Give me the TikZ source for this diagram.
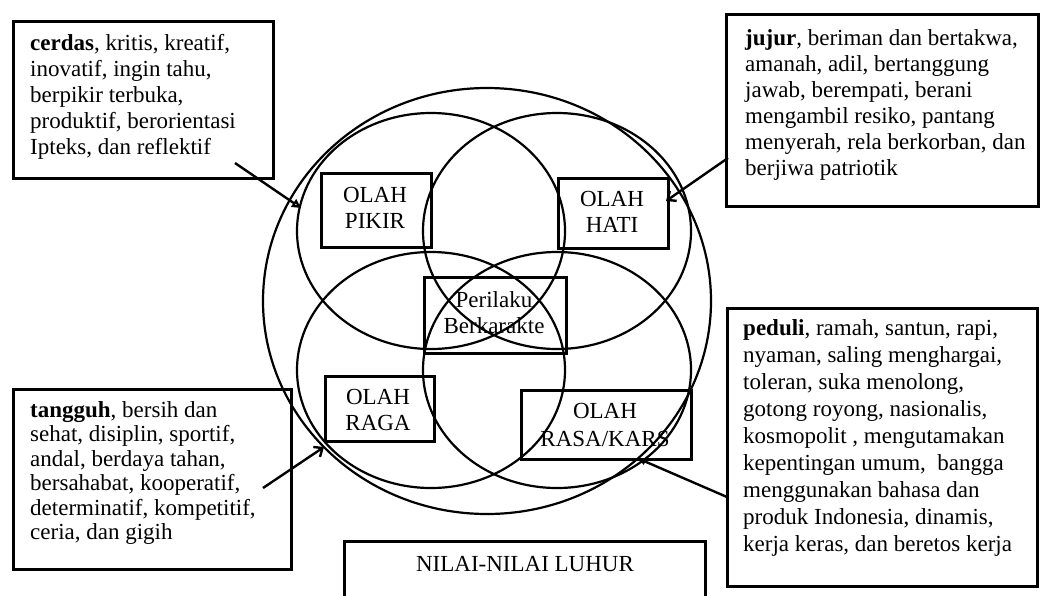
\documentclass[tikz,border=0pt]{standalone}
\usepackage{fontspec}
\setmainfont{Liberation Serif}
\usetikzlibrary{arrows.meta}
\begin{document}
\begin{tikzpicture}[x=1pt,y=-1pt,
  tbox/.style={draw,line width=3pt,inner sep=0,anchor=north west},
  lbox/.style={draw,line width=2.6pt,inner sep=0,anchor=north west},
  ring/.style={line width=2.2pt},
  txt/.style={anchor=north west,inner sep=0,align=left,font=\fontsize{23}{26}\selectfont},
  lab/.style={inner sep=0,anchor=north,align=center,font=\fontsize{23}{26}\selectfont},
  ar/.style={line width=2.4pt}]
\useasboundingbox (0,0) rectangle (1040,595);
% circles
\draw[ring] (487,301) ellipse [x radius=224pt, y radius=213pt];
\draw[ring] (431,231) ellipse [x radius=134pt, y radius=118pt];
\draw[ring] (557,231) ellipse [x radius=134pt, y radius=118pt];
\draw[ring] (431,370) ellipse [x radius=134pt, y radius=118pt];
\draw[ring] (557,370) ellipse [x radius=134pt, y radius=118pt];
% text boxes
\node[tbox,minimum width=260pt,minimum height=157pt] (tl) at (12,20) {};
\node[txt] (tlt) at (30,34) {\textbf{cerdas}, kritis, kreatif,\\inovatif, ingin tahu,\\berpikir terbuka,\\produktif, berorientasi\\Ipteks, dan reflektif};
\node[tbox,minimum width=312pt,minimum height=192pt] (tr) at (725,13) {};
\node[txt] (trt) at (745,29) {\textbf{jujur}, beriman dan bertakwa,\\amanah, adil, bertanggung\\jawab, berempati, berani\\mengambil resiko, pantang\\menyerah, rela berkorban, dan\\berjiwa patriotik};
\node[tbox,minimum width=278pt,minimum height=180pt] (bl) at (12,388) {};
\node[txt,font=\fontsize{23}{24.5}\selectfont] (blt) at (30,401) {\textbf{tangguh}, bersih dan\\sehat, disiplin, sportif,\\andal, berdaya tahan,\\bersahabat, kooperatif,\\determinatif, kompetitif,\\ceria, dan gigih};
\node[tbox,minimum width=310pt,minimum height=278pt] (br) at (726,307) {};
\node[txt,font=\fontsize{23}{27}\selectfont] (brt) at (743,319) {\textbf{peduli}, ramah, santun, rapi,\\nyaman, saling menghargai,\\toleran, suka menolong,\\gotong royong, nasionalis,\\kosmopolit , mengutamakan\\kepentingan umum,\ \ bangga\\menggunakan bahasa dan\\produk Indonesia, dinamis,\\kerja keras, dan beretos kerja};
% bottom box (open at bottom)
\draw[line width=3pt] (344,600) -- (344,541) -- (705,541) -- (705,600);
\node[lab,anchor=base] (nl) at (525,571) {NILAI-NILAI LUHUR};
% small boxes
\node[lbox,minimum width=110pt,minimum height=74pt] (pk) at (320,172) {};
\node[lab] (pkt) at (375,187.5) {OLAH\\PIKIR};
\node[lbox,minimum width=110pt,minimum height=70pt] (ht) at (557,177) {};
\node[lab] (htt) at (612,191.5) {OLAH\\HATI};
\node[lbox,minimum width=142pt,minimum height=76pt] (pb) at (423,276) {};
\node[lab] (pbt) at (494,291) {Perilaku\\Berkarakte};
\node[lbox,minimum width=109pt,minimum height=65pt] (rg) at (324,375) {};
\node[lab] (rgt) at (378,389.5) {OLAH\\RAGA};
\node[lbox,minimum width=170pt,minimum height=69pt] (rs) at (520,389) {};
\node[lab,font=\fontsize{23}{28}\selectfont] (rst) at (605,403.5) {OLAH\\RASA/KARS};
% arrows
\coordinate (a1s) at (235,163); \coordinate (a1e) at (301,208);
\coordinate (a2s) at (728,158); \coordinate (a2e) at (666,201);
\coordinate (a3s) at (263,488); \coordinate (a3e) at (324,447);
\coordinate (a4s) at (727,497); \coordinate (a4e) at (637,458);
\draw[ar,-{Triangle[open,length=9pt,width=9pt]}] (a1s) -- (a1e);
\draw[ar,-{Straight Barb[length=7pt,width=12pt]}] (a2s) -- (a2e);
\draw[ar,-{Straight Barb[length=7pt,width=12pt]}] (a3s) -- (a3e);
\draw[ar,-{Latex[length=9pt,width=8pt]}] (a4s) -- (a4e);
\end{tikzpicture}
\end{document}
